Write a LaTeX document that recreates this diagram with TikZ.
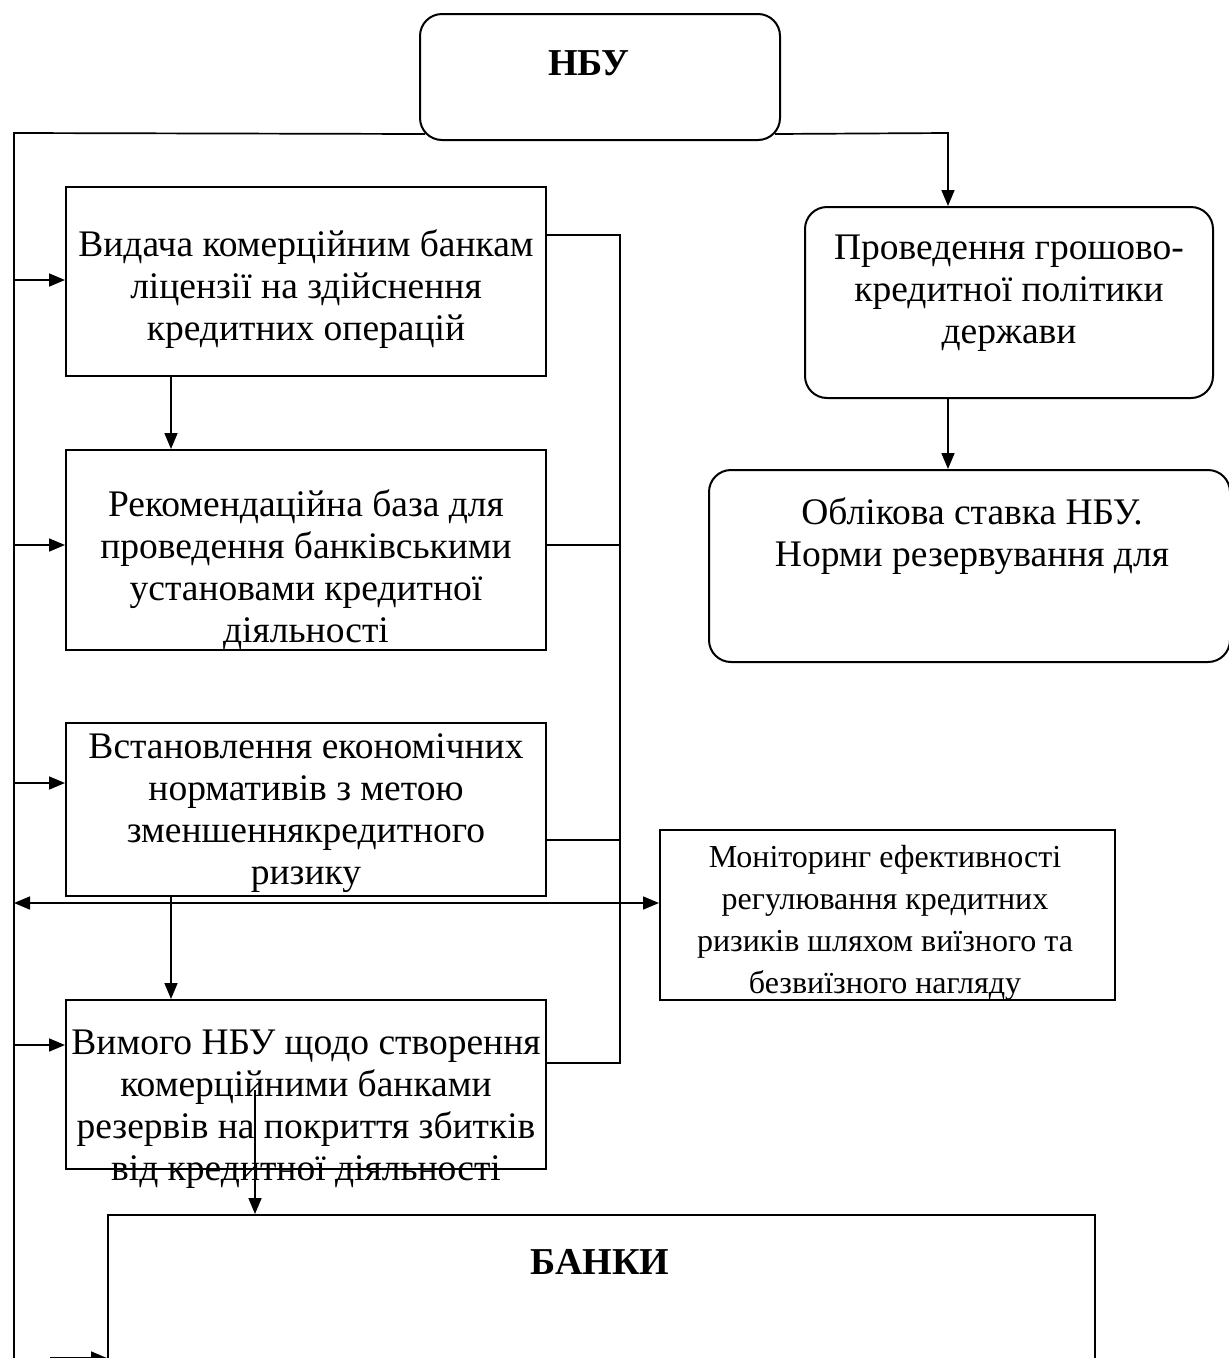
\documentclass[tikz,border=0pt]{standalone}
\usepackage{fontspec}
\setmainfont{Liberation Serif}
\usetikzlibrary{arrows.meta,calc}
\begin{document}
\begin{tikzpicture}[x=1pt,y=-1pt,line width=1.7pt,
  box/.style={draw,line width=2pt,inner sep=0pt},
  rbox/.style={box,rounded corners=22pt},
  txt/.style={align=center,inner sep=0pt,font=\fontsize{37.5}{42}\selectfont},
  stxt/.style={align=center,inner sep=0pt,font=\fontsize{32}{42}\selectfont},
  btxt/.style={inner sep=0pt,font=\fontsize{38}{42}\selectfont\bfseries},
  arr/.style={-{Triangle[length=16pt,width=13pt]}},
  darr/.style={{Triangle[length=16pt,width=13pt]}-{Triangle[length=16pt,width=13pt]}}]
\useasboundingbox (0,0) rectangle (1229,1358);
\clip (0,0) rectangle (1229,1358);
% boxes
\node[rbox,minimum width=360pt,minimum height=126pt] (nbu) at (600,77) {};
\node[btxt] (nbut) at (589,63) {НБУ};
\node[box,minimum width=480pt,minimum height=189pt] (b1) at (306,281.5) {};
\node[txt] (b1t) at (306,289) {Видача комерційним банкам\\ліцензії на здійснення\\кредитних операцій};
\node[box,minimum width=480pt,minimum height=200pt] (b2) at (306,550) {};
\node[txt] (b2t) at (306,570) {Рекомендаційна база для\\проведення банківськими\\установами кредитної\\діяльності};
\node[box,minimum width=480pt,minimum height=173pt] (b3) at (306,809.5) {};
\node[txt] (b3t) at (306,813) {Встановлення економічних\\нормативів з метою\\зменшеннякредитного\\ризику};
\node[box,minimum width=480pt,minimum height=169pt] (b4) at (306,1084.5) {};
\node[txt] (b4t) at (306,1109) {Вимого НБУ щодо створення\\комерційними банками\\резервів на покриття збитків\\від кредитної діяльності};
\node[box,minimum width=455pt,minimum height=170pt] (mon) at (887.5,915) {};
\node[stxt] (mont) at (885,923) {Моніторинг ефективності\\регулювання кредитних\\ризиків шляхом виїзного та\\безвиїзного нагляду};
\node[rbox,minimum width=408pt,minimum height=191pt] (prov) at (1009,302.5) {};
\node[txt] (provt) at (1009,293) {Проведення грошово-\\кредитної політики\\держави};
\node[rbox,minimum width=521pt,minimum height=192pt] (obl) at (969.5,566) {};
\node[txt] (oblt) at (972,536) {Облікова ставка НБУ.\\Норми резервування для};
\node[box,minimum width=987pt,minimum height=185pt] (banks) at (601.5,1307.5) {};
\node[btxt] (bankst) at (600,1262) {БАНКИ};
% coordinates
\coordinate (tl) at (14,133);
\coordinate (tb) at (14,1370);
\coordinate (tr) at (948,133);
\coordinate (bus) at (620,235);
\coordinate (busb) at (620,1063);
\coordinate (dn) at (171,0);
\coordinate (bk) at (255,1090);
% connectors
\draw ($(nbu.south west)+(6,-7)$) -- (tl) -- (tb);
\draw[arr] ($(nbu.south east)+(-6,-7)$) -- (tr) -- (tr |- prov.north);
\draw[arr] (tr |- prov.south) -- (tr |- obl.north);
\draw[arr] (14,280) -- (b1.west |- 0,280);
\draw[arr] (14,545) -- (b2.west |- 0,545);
\draw[arr] (14,783) -- (b3.west |- 0,783);
\draw[arr] (14,1045) -- (b4.west |- 0,1045);
\draw[arr] (50,1358) -- (banks.west |- 0,1358);
\draw (b1.east |- bus) -- (bus) -- (busb) -- (b4.east |- busb);
\draw (b2.east |- 0,545) -- (620,545);
\draw (b3.east |- 0,840) -- (620,840);
\draw[darr] (14,903) -- (mon.west |- 0,903);
\draw[arr] (dn |- b1.south) -- (dn |- b2.north);
\draw[arr] (dn |- b3.south) -- (dn |- b4.north);
\draw[arr] (bk) -- (bk |- banks.north);
\end{tikzpicture}
\end{document}
